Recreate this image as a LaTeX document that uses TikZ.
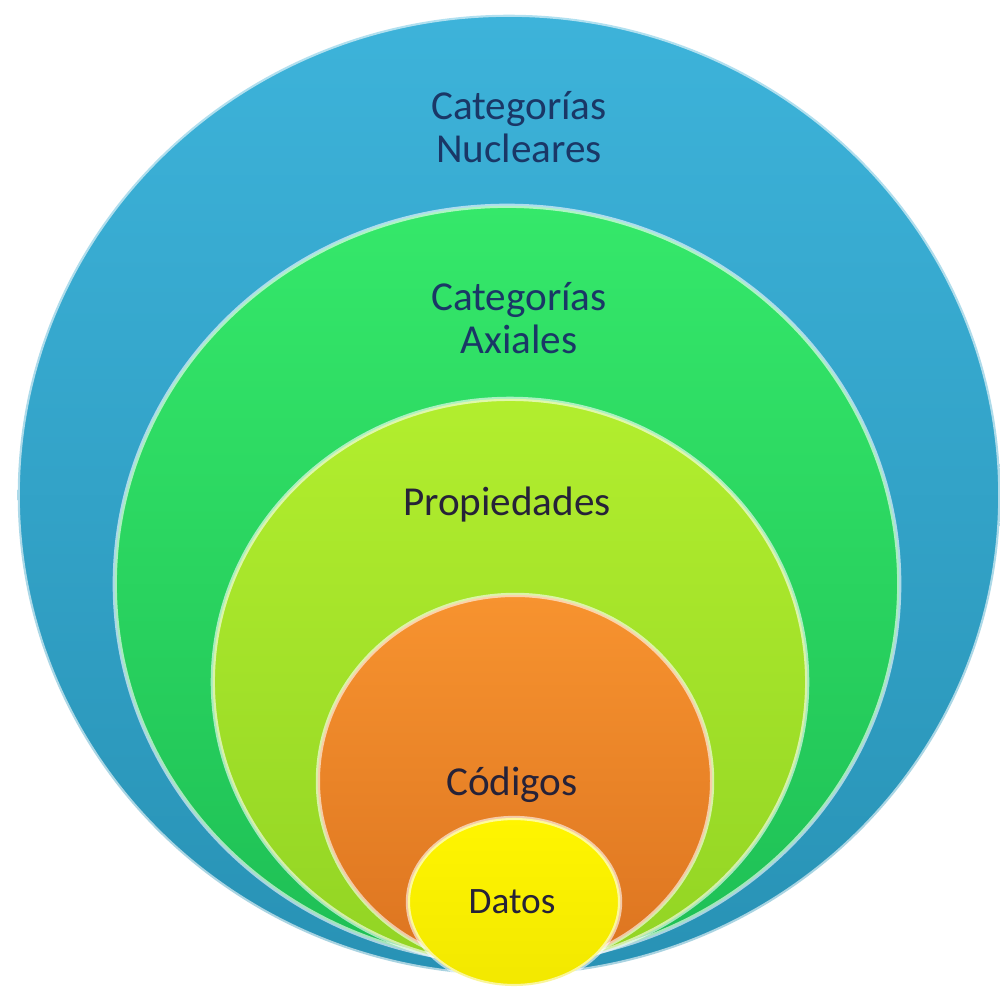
\documentclass[tikz,border=0pt]{standalone}
\usepackage{fontspec}
\setmainfont{Carlito}
\usetikzlibrary{shapes.geometric}
\definecolor{blueT}{HTML}{3DB3DA}
\definecolor{blueB}{HTML}{2892B5}
\definecolor{greenT}{HTML}{35E86A}
\definecolor{greenB}{HTML}{1EBF55}
\definecolor{limeT}{HTML}{B2EE2E}
\definecolor{limeB}{HTML}{92D424}
\definecolor{orangeT}{HTML}{F7932F}
\definecolor{orangeB}{HTML}{DC7420}
\definecolor{yellowT}{HTML}{FFF500}
\definecolor{yellowB}{HTML}{F2E800}
\definecolor{navy}{HTML}{1A3766}
\definecolor{dark}{HTML}{262238}
\tikzset{
  ring/.style={ellipse, inner sep=0pt, draw=white, draw opacity=0.6, line width=1.2pt},
  lbl/.style={font=\fontsize{11.7pt}{12.4pt}\selectfont, align=center, inner sep=0pt}
}
\begin{document}
\begin{tikzpicture}[x=0.01cm,y=-0.01cm]
\useasboundingbox (0,0) rectangle (1000,988);
\node[ring, top color=blueT, bottom color=blueB, minimum width=9.82cm, minimum height=9.6cm] (nuc) at (509,495) {};
\node[ring, top color=greenT, bottom color=greenB, minimum width=7.84cm, minimum height=7.56cm] (axi) at (507,584) {};
\node[ring, top color=limeT, bottom color=limeB, minimum width=5.94cm, minimum height=5.66cm] (pro) at (510,682) {};
\node[ring, top color=orangeT, bottom color=orangeB, minimum width=3.94cm, minimum height=3.72cm] (cod) at (515,781) {};
\node[ring, top color=yellowT, bottom color=yellowB, minimum width=2.12cm, minimum height=1.68cm] (dat) at (514,902) {};
\node[lbl, text=navy] (tnuc) at (519,127) {Categorías\\Nucleares};
\node[lbl, text=navy] (taxi) at (519,318) {Categorías\\Axiales};
\node[lbl, text=dark] (tpro) at (507,505) {Propiedades};
\node[lbl, text=dark] (tcod) at (512,785) {Códigos};
\node[lbl, text=dark, font=\fontsize{10.6pt}{12pt}\selectfont] (tdat) at (512,902) {Datos};
\end{tikzpicture}
\end{document}
